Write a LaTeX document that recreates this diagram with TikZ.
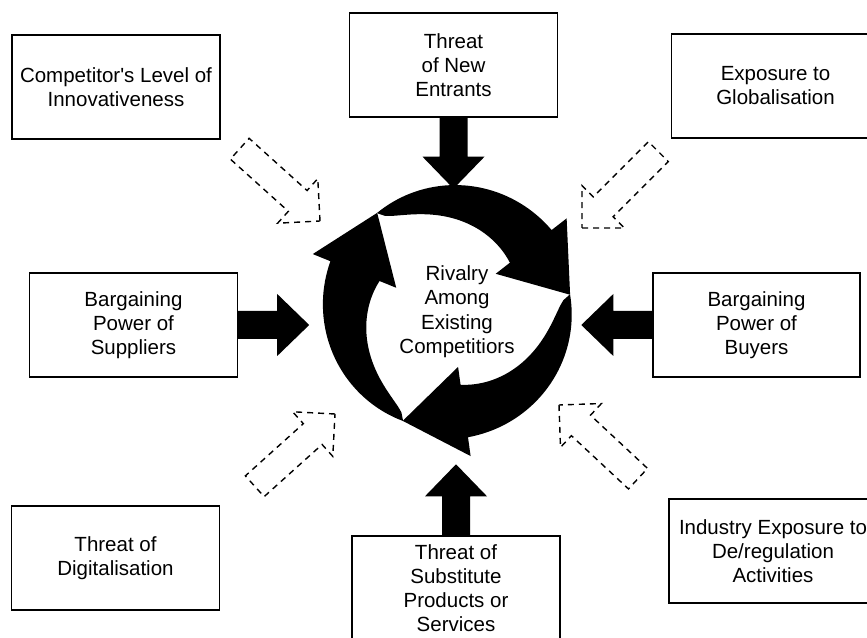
\documentclass[tikz,border=0pt]{standalone}
\usepackage{fontspec}
\setmainfont{Liberation Sans}[Ligatures=TeXOff]
\usetikzlibrary{calc}
\newcommand\blockarrow[2]{%
  \begin{scope}[shift={(#1)},rotate=#2]
    \fill[black] (0,-14)--(39,-14)--(39,-31)--(71,0)--(39,31)--(39,14)--(0,14)--cycle;
  \end{scope}}
\newcommand\hollowarrow[2]{%
  \begin{scope}[shift={(#1)},rotate=#2]
    \draw[dasharrow] (0,0)--(-30,30)--(-30,14)--(-108,14)--(-108,-14)--(-30,-14)--(-30,-30)--cycle;
  \end{scope}}
\begin{document}
\begin{tikzpicture}[x=1pt,y=1pt,
  box/.style={draw=black, line width=1.4pt, minimum width=208pt, minimum height=104pt,
    inner sep=0pt, align=center, font=\fontsize{20.5}{24}\selectfont},
  dasharrow/.style={draw=black, line width=1.4pt, dash pattern=on 6pt off 5pt, line join=miter},
  centertext/.style={align=center, inner sep=0pt, font=\fontsize{20.5}{24.5}\selectfont}]
\useasboundingbox (0,0) rectangle (867,637);
\clip (0,0) rectangle (867,637);

% boxes
\node[box] (innov) at (116,550) {Competitor's Level of\\Innovativeness};
\node[box] (entr) at (453.5,572) {Threat\\of New\\Entrants};
\node[box] (glob) at (775.5,551) {Exposure to\\Globalisation};
\node[box] (supp) at (133.5,312) {Bargaining\\Power of\\Suppliers};
\node[box, minimum width=207pt] (buy) at (756.5,312) {Bargaining\\Power of\\Buyers};
\node[box] (digi) at (115.5,79) {Threat of\\Digitalisation};
\node[box] (subst) at (456,49) {Threat of\\Substitute\\Products or\\Services};
\node[box] (dereg) at (773,86) {Industry Exposure to\\De/regulation\\Activities};

% centre text
\node[centertext] (rival) at (457,325.5) {Rivalry\\Among\\Existing\\Competitiors};

% circular arrows
\begin{scope}[shift={(450,327.5)}]
\foreach \a in {127,247,7} {
  \fill[black] plot[domain=0:1,samples=40,variable=\t] ({\a-89*\t}:{121+8*\t})
    -- ({\a-89}:148) -- ({\a-120}:121) -- ({\a-89}:58) -- ({\a-89}:76)
    -- plot[domain=1:0,samples=40,variable=\t] ({\a-89*\t}:{121-45*sqrt(\t)}) -- cycle;
}
\end{scope}

% solid block arrows
\blockarrow{entr.south}{-90}
\blockarrow{supp.east}{0}
\blockarrow{buy.west}{180}
\blockarrow{subst.north}{90}

% dashed hollow arrows
\coordinate (tl) at (320,416);
\coordinate (tr) at (582,409);
\coordinate (bl) at (335,223);
\coordinate (br) at (559,232);
\hollowarrow{tl}{-42}
\hollowarrow{tr}{225}
\hollowarrow{bl}{42}
\hollowarrow{br}{137}
\end{tikzpicture}
\end{document}
